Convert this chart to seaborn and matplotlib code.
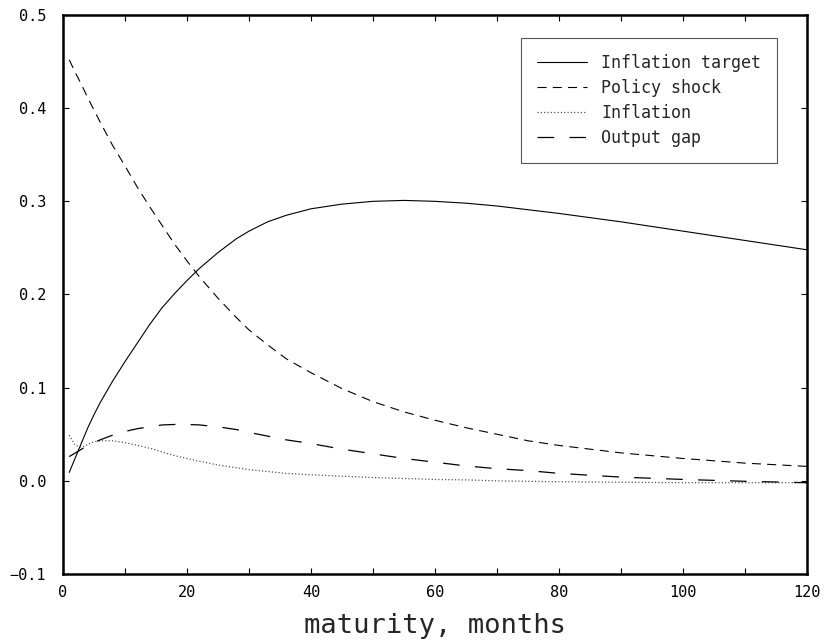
import matplotlib
matplotlib.use("Agg")
import matplotlib.pyplot as plt
import seaborn as sns
import numpy as np
import pandas as pd
from matplotlib.ticker import MultipleLocator, FuncFormatter

sns.set_theme(style="white")
plt.rcParams['font.family'] = ['DejaVu Sans Mono', 'DejaVu Sans']
plt.rcParams['lines.scale_dashes'] = False

maturity = [1, 2, 3, 4, 5, 6, 8, 10, 12, 14, 16, 18, 20, 22, 25, 28, 30, 33, 36, 40,
            45, 50, 55, 60, 65, 70, 75, 80, 90, 100, 110, 120]

inflation_target = [0.009, 0.025, 0.041, 0.057, 0.071, 0.084, 0.107, 0.128, 0.148,
                    0.168, 0.186, 0.201, 0.215, 0.228, 0.245, 0.260, 0.268, 0.278,
                    0.285, 0.292, 0.297, 0.300, 0.301, 0.300, 0.298, 0.295, 0.291,
                    0.287, 0.278, 0.268, 0.258, 0.248]

policy_shock = [0.452, 0.438, 0.425, 0.411, 0.398, 0.385, 0.360, 0.338, 0.315, 0.294,
                0.274, 0.254, 0.236, 0.219, 0.196, 0.175, 0.162, 0.146, 0.131, 0.116,
                0.099, 0.085, 0.074, 0.065, 0.057, 0.050, 0.043, 0.038, 0.030, 0.024,
                0.019, 0.0155]

inflation = [0.049, 0.038, 0.036, 0.039, 0.042, 0.043, 0.043, 0.041, 0.038, 0.035,
             0.031, 0.027, 0.024, 0.021, 0.017, 0.014, 0.012, 0.010, 0.008, 0.0065,
             0.005, 0.0035, 0.0025, 0.0015, 0.001, 0.0, -0.0005, -0.001, -0.0015,
             -0.002, -0.002, -0.002]

output_gap = [0.026, 0.030, 0.034, 0.038, 0.041, 0.044, 0.049, 0.053, 0.056, 0.058,
              0.060, 0.0605, 0.0605, 0.060, 0.058, 0.055, 0.052, 0.048, 0.044, 0.040,
              0.034, 0.029, 0.024, 0.020, 0.016, 0.013, 0.011, 0.008, 0.004, 0.0015,
              -0.0005, -0.002]

series_names = ["Inflation target", "Policy shock", "Inflation", "Output gap"]
series_values = [inflation_target, policy_shock, inflation, output_gap]

fig = plt.figure(figsize=(8.26, 6.44), dpi=100)
ax = fig.add_axes([63 / 826, 1 - 574 / 644, (807 - 63) / 826, (574 - 15) / 644])

styles = {
    "Inflation target": dict(dashes=None, color="black", lw=0.8),
    "Policy shock": dict(dashes=(6.5, 4.5), color="black", lw=0.8),
    "Inflation": dict(dashes=(0.8, 1.6), color="#444444", lw=0.9),
    "Output gap": dict(dashes=(12, 11), color="black", lw=0.9),
}

handles = []
for name, vals in zip(series_names, series_values):
    st = styles[name]
    sns.lineplot(x=maturity, y=vals, ax=ax, color=st["color"], lw=st["lw"],
                 label=name, legend=False)
    line = ax.lines[-1]
    if st["dashes"] is not None:
        line.set_dashes(st["dashes"])
    handles.append(line)

ax.set_xlim(0, 120)
ax.set_ylim(-0.1, 0.5)
ax.xaxis.set_major_locator(MultipleLocator(20))
ax.xaxis.set_minor_locator(MultipleLocator(10))
ax.yaxis.set_major_locator(MultipleLocator(0.1))
ax.yaxis.set_major_formatter(FuncFormatter(lambda v, p: f"{v:.1f}".replace("-", "\u2212")))

ax.tick_params(axis='both', which='both', direction='in', top=True, right=True,
               bottom=True, left=True, length=4.3, width=0.8, colors='black',
               labelsize=11)
ax.tick_params(axis='x', which='major', pad=8)
ax.tick_params(axis='y', which='major', pad=12)

for sp in ax.spines.values():
    sp.set_visible(True)
    sp.set_color('black')
    sp.set_linewidth(1.8)

ax.set_xlabel("maturity, months", fontsize=19.5, labelpad=9)
ax.set_ylabel("")
ax.grid(False)

leg = ax.legend(handles=handles, labels=series_names, loc='upper right',
                bbox_to_anchor=((777 - 63) / 744, (574 - 38) / 559),
                borderaxespad=0, frameon=True, fancybox=False, framealpha=1,
                edgecolor='#555555', fontsize=12, handlelength=3.0,
                handletextpad=0.85, labelspacing=0.42, borderpad=0.95)
leg.get_frame().set_linewidth(0.8)

fig.savefig("out.png", dpi=100, facecolor="white")
